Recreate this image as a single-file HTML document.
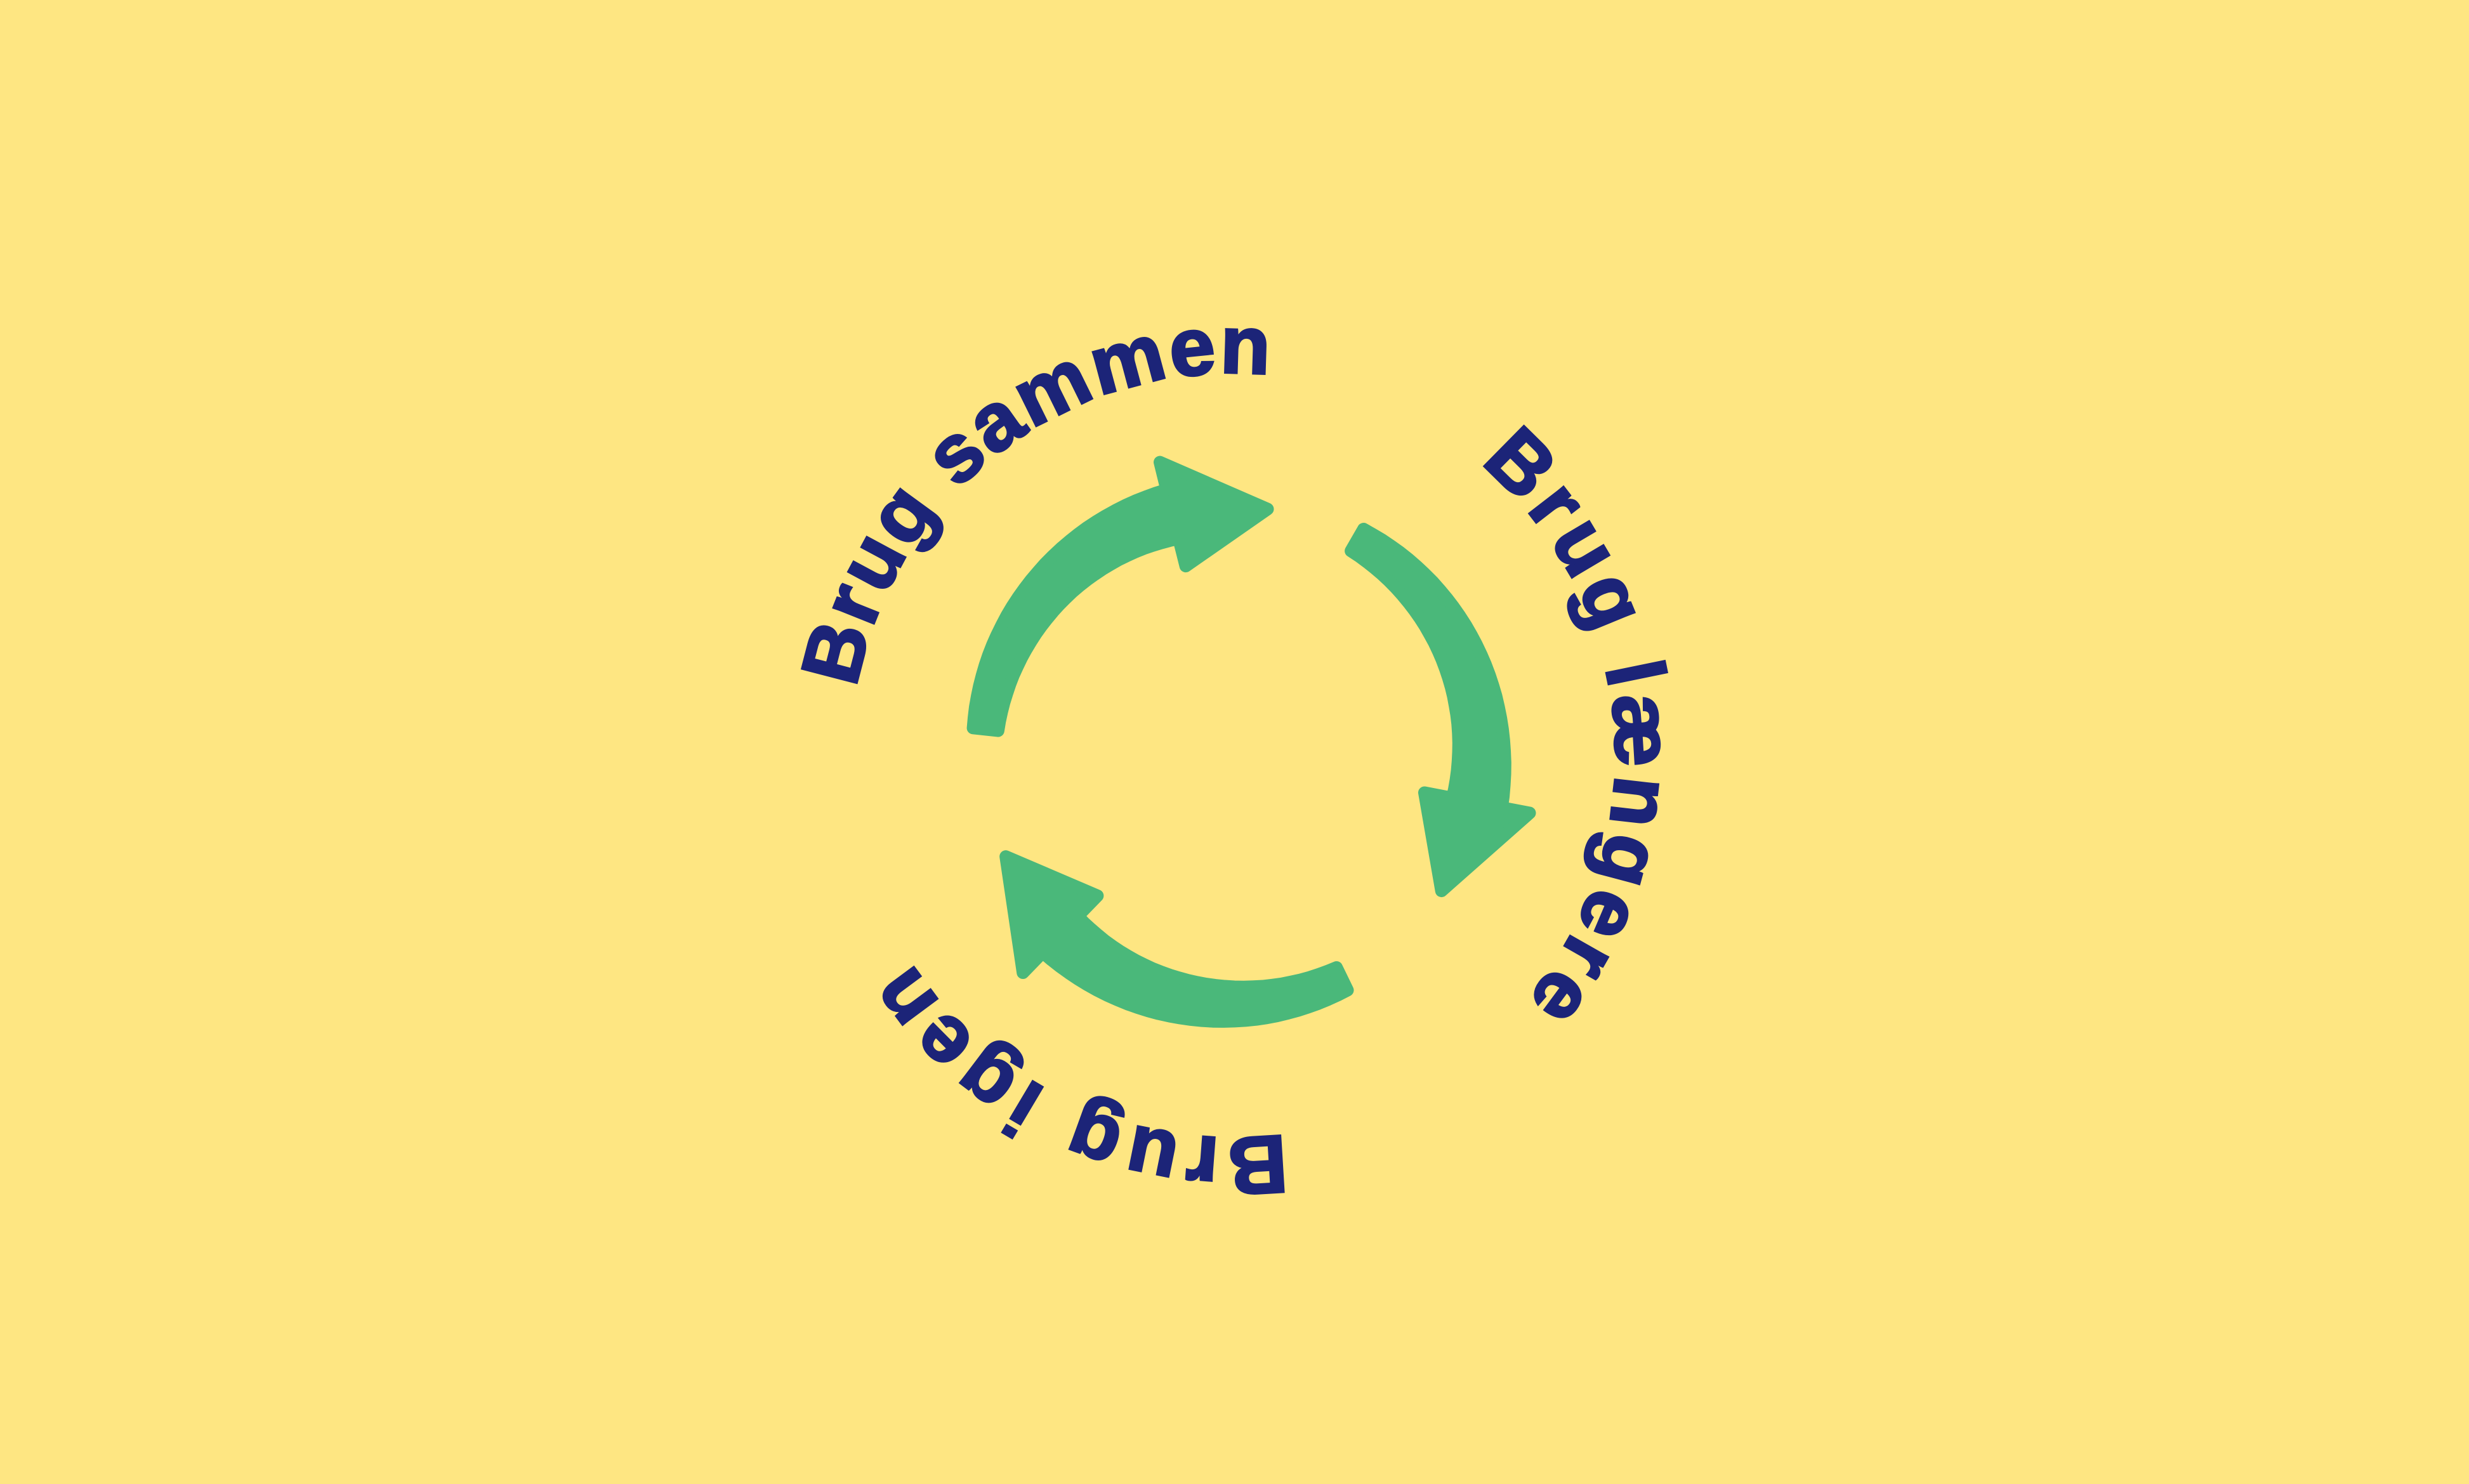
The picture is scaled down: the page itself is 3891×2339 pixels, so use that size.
<!DOCTYPE html>
<html><head><meta charset="utf-8">
<style>
html,body{margin:0;padding:0;background:#fee682;}
svg{display:block;}
text{font-family:"Liberation Sans",sans-serif;font-weight:bold;font-size:52px;fill:#1c2478;stroke:#1c2478;stroke-width:1.5px;}
</style></head>
<body>
<svg id="s" width="3891" height="2339" viewBox="0 0 1568 943" xmlns="http://www.w3.org/2000/svg">
<rect width="1568" height="943" fill="#fee682"/>
<defs>
<path id="c" d="M 1026,480 A 243 243 0 1 1 540,480 A 243 243 0 1 1 1026,480 A 243 243 0 1 1 540,480 A 243 243 0 1 1 1026,480"/>
</defs>
<text><textPath href="#c" startOffset="806" textLength="362" lengthAdjust="spacing">Brug sammen</textPath></text>
<text><textPath href="#c" startOffset="1315" textLength="380" lengthAdjust="spacing">Brug længere</textPath></text>
<text><textPath href="#c" startOffset="348" textLength="276" lengthAdjust="spacing">Brug igen</textPath></text>
<g id="arrows" fill="#4ab87a" stroke="none"></g>
</svg>
<script>
(function(){
var cx=783,cy=480,g=document.getElementById('arrows');
function p(a,r){a=a*Math.PI/180;return [cx+r*Math.cos(a),cy+r*Math.sin(a)];}
function arrow(a0,tip){
  var r=158,w=16,a1=tip-22,d='',i,n=30,pts=[];
  for(i=0;i<=n;i++){var a=a0+(a1-a0)*i/n;var ww=w*(0.5+0.5*i/n);pts.push(p(a,r+ww));}
  var inner=[];
  for(i=n;i>=0;i--){var a=a0+(a1-a0)*i/n;var ww=w*(0.5+0.5*i/n);inner.push(p(a,r-ww));}
  var all=pts.concat([p(a1,r+34),p(tip,r),p(a1,r-34)]).concat(inner);
  d='M'+all.map(function(q){return q[0].toFixed(1)+','+q[1].toFixed(1);}).join(' L')+' Z';
  var e=document.createElementNS('http://www.w3.org/2000/svg','path');
  e.setAttribute('d',d);e.setAttribute('stroke','#4ab87a');e.setAttribute('stroke-width','8');e.setAttribute('stroke-linejoin','round');
  g.appendChild(e);
}
arrow(186,278);
arrow(300,393);
arrow(64,156);
})();
</script>
</body></html>
